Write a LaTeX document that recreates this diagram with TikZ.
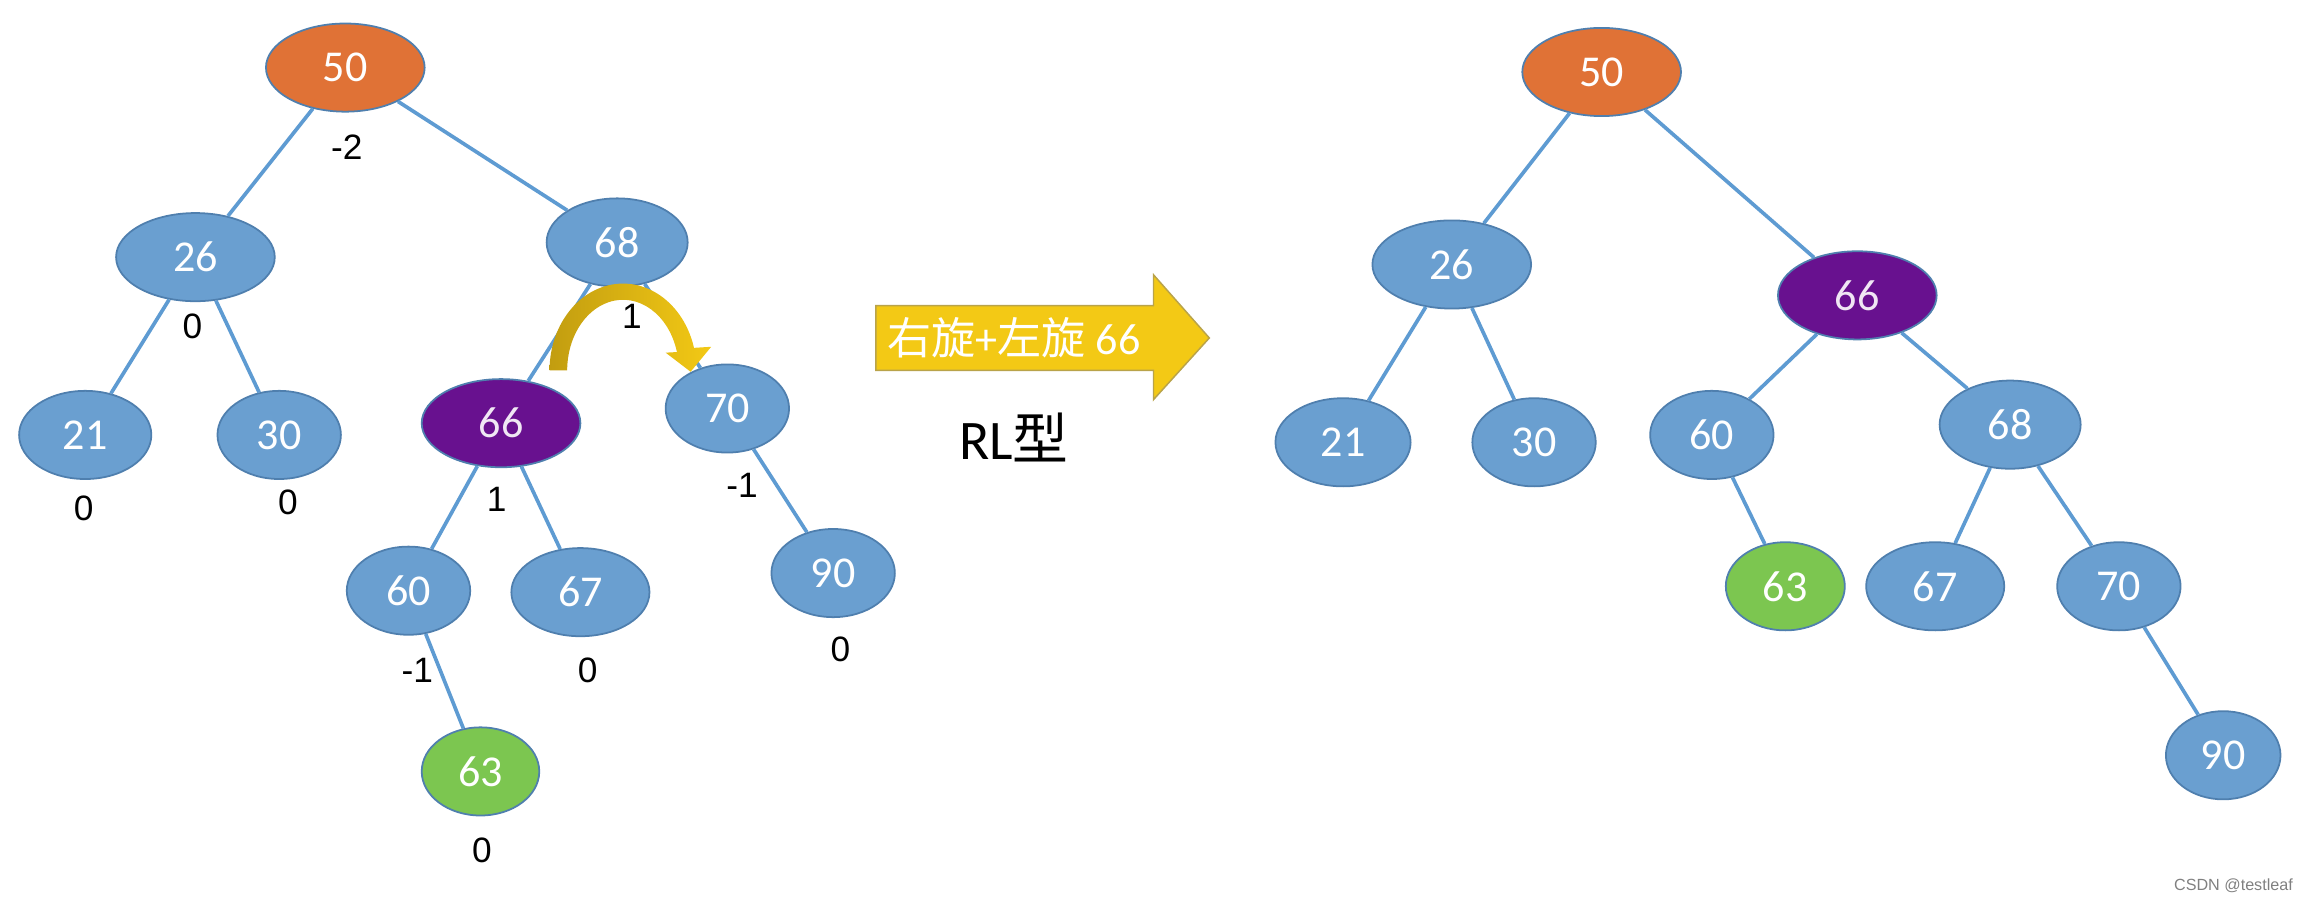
\documentclass[tikz,border=0pt]{standalone}
\usepackage{fontspec}
\setmainfont{Carlito}
\newfontfamily\arialfont{Liberation Sans}
\newfontfamily\cjk{Noto Sans CJK SC}
\usetikzlibrary{shapes.geometric}
\definecolor{nodeblue}{HTML}{6A9FD0}
\definecolor{nodeline}{HTML}{4F7FAE}
\definecolor{edgeblue}{HTML}{5E9BD2}
\definecolor{rootorange}{HTML}{E07236}
\definecolor{violet66}{HTML}{68118F}
\definecolor{leafgreen}{HTML}{7CC650}
\definecolor{arrowgold}{HTML}{F3C915}
\definecolor{arrowline}{HTML}{B9A34A}
\definecolor{darkgold}{HTML}{C29D10}

\begin{document}
\begin{tikzpicture}[x=1pt, y=-1pt,
    tnode/.style={ellipse, draw=nodeline, line width=1.2pt, fill=nodeblue,
      text=white, inner sep=0pt, minimum width=84pt, minimum height=60pt,
      font=\fontsize{30}{30}\selectfont},
    wide/.style={minimum width=108pt},
    bf/.style={font=\arialfont\fontsize{24}{24}\selectfont},
    tedge/.style={draw=edgeblue, line width=2.5pt}]
    \useasboundingbox (0,0) rectangle (1568,612);

    % before
    \node[tnode, wide, fill=rootorange] (l50) at (235,46) {50};
    \node[tnode, wide] (l26) at (133,175) {26};
    \node[tnode, minimum width=96pt] (l68) at (420,165) {68};
    \node[tnode, minimum width=90pt] (l21) at (58,296) {21};
    \node[tnode] (l30) at (190,296) {30};
    \node[tnode, wide, fill=violet66, text=violet66!10] (l66) at (341,288) {66};
    \node[tnode] (l70) at (495,278) {70};
    \node[tnode] (l60) at (278,402) {60};
    \node[tnode, minimum width=94pt] (l67) at (395,403) {67};
    \node[tnode] (l90) at (567,390) {90};
    \node[tnode, minimum width=80pt, fill=leafgreen] (l63) at (327,525) {63};

    \foreach \a/\b in {l50/l26, l50/l68, l26/l21, l26/l30, l68/l66, l68/l70,
      l66/l60, l66/l67, l70/l90, l60/l63}
      \draw[tedge] (\a) -- (\b);

    \node[bf] (f50) at (236,100) {-2};
    \node[bf] (f26) at (131,222) {0};
    \node[bf] (f68) at (430,215) {1};
    \node[bf] (f21) at (57,346) {0};
    \node[bf] (f30) at (196,342) {0};
    \node[bf] (f66) at (338,340) {1};
    \node[bf] (f70) at (505,330) {-1};
    \node[bf] (f60) at (284,456) {-1};
    \node[bf] (f67) at (400,456) {0};
    \node[bf] (f90) at (572,442) {0};
    \node[bf] (f63) at (328,579) {0};

    % rotation arrow
    \shade[left color=darkgold, right color=arrowgold] (374,252)
      arc[start angle=180, end angle=345, x radius=50, y radius=59]
      -- (484,236) -- (470,253) -- (453,240) -- (460.7,239.6)
      arc[start angle=345, end angle=180, x radius=38, y radius=48] -- cycle;

    % big arrow
    \draw[fill=arrowgold, draw=arrowline, line width=1pt] (596,208) -- (785,208)
      -- (785,187) -- (823,230) -- (785,272) -- (785,252) -- (596,252) -- cycle;
    \node[text=white, font=\fontsize{30}{30}\selectfont] (rot) at (690,230)
      {{\cjk 右旋}+{\cjk 左旋} 66};
    \node[font=\fontsize{38}{38}\selectfont] (kind) at (690,298) {RL{\cjk 型}};

    % after
    \node[tnode, wide, fill=rootorange] (r50) at (1090,49) {50};
    \node[tnode, wide] (r26) at (988,180) {26};
    \node[tnode, wide, fill=violet66, text=violet66!10] (r66) at (1264,201) {66};
    \node[tnode, minimum width=92pt] (r21) at (914,301) {21};
    \node[tnode] (r30) at (1044,301) {30};
    \node[tnode] (r60) at (1165,296) {60};
    \node[tnode, minimum width=96pt] (r68) at (1368,289) {68};
    \node[tnode, minimum width=81pt, fill=leafgreen] (r63) at (1215,399) {63};
    \node[tnode, minimum width=94pt] (r67) at (1317,399) {67};
    \node[tnode] (r70) at (1442,399) {70};
    \node[tnode, minimum width=78pt] (r90) at (1513,514) {90};

    \foreach \a/\b in {r50/r26, r50/r66, r26/r21, r26/r30, r66/r60, r66/r68,
      r60/r63, r68/r67, r68/r70, r70/r90}
      \draw[tedge] (\a) -- (\b);

    \node[font=\arialfont\fontsize{11}{11}\selectfont, text=gray] (mark)
      at (1520,603) {CSDN @testleaf};
  \end{tikzpicture}
\end{document}
